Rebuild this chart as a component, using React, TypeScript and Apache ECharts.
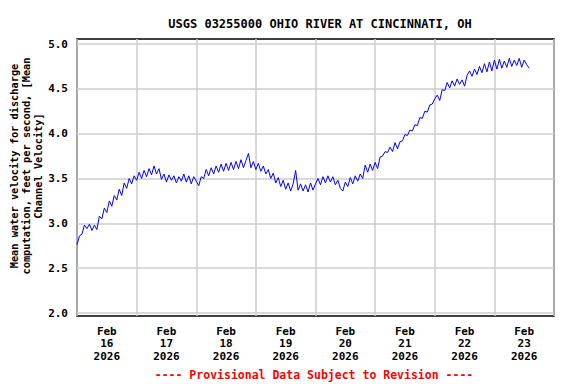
import React, { useEffect, useRef } from "react";
import * as echarts from "echarts";

const TITLE = "USGS 03255000 OHIO RIVER AT CINCINNATI, OH";
const Y_NAME = "Mean water velocity for discharge\ncomputation, feet per second, [Mean\nChannel Velocity]";
const FOOTNOTE = "---- Provisional Data Subject to Revision ----";
const MONTH = "Feb";
const YEAR = "2026";
const DAY_LABELS = ["16", "17", "18", "19", "20", "21", "22", "23"];
const HOURS_PER_STEP = 1; // one reading per hour starting Feb 16 00:00
const VELOCITY = [
  2.76, 2.86, 2.88, 2.98, 2.94, 2.99, 2.92, 2.98, 2.93, 3.08, 3.05, 3.17, 3.12, 3.25, 3.19, 3.31, 3.26, 3.38, 3.31, 3.45, 3.39, 3.50, 3.44, 3.53,
  3.48, 3.57, 3.50, 3.59, 3.52, 3.61, 3.54, 3.64, 3.55, 3.61, 3.49, 3.55,
  3.46, 3.54, 3.48, 3.53, 3.45, 3.52, 3.47, 3.55, 3.46, 3.53, 3.44, 3.52, 3.47,
  3.42, 3.52, 3.50, 3.60, 3.53, 3.62, 3.55, 3.64, 3.57, 3.66, 3.58, 3.67, 3.59, 3.68, 3.60, 3.69, 3.61, 3.71, 3.62, 3.70,
  3.78, 3.62, 3.69, 3.60, 3.67, 3.58, 3.64, 3.55, 3.60, 3.50, 3.56, 3.45, 3.51, 3.41, 3.48, 3.38, 3.45, 3.36, 3.44, 3.59, 3.37,
  3.44, 3.36, 3.43, 3.35, 3.45, 3.37, 3.44,
  3.50, 3.43, 3.52, 3.45, 3.53, 3.46, 3.52, 3.43, 3.48, 3.39, 3.36, 3.46, 3.41, 3.51, 3.44, 3.53, 3.47, 3.55, 3.50,
  3.65, 3.57, 3.66, 3.59, 3.68, 3.61, 3.74, 3.75, 3.80, 3.79, 3.85, 3.80, 3.90, 3.83, 3.91,
  3.92, 3.99, 3.98, 4.04, 4.03, 4.10, 4.09, 4.18, 4.17, 4.25, 4.24, 4.32, 4.33, 4.39, 4.43, 4.37,
  4.49, 4.48, 4.57, 4.51, 4.59, 4.53, 4.61, 4.55, 4.60, 4.53,
  4.65, 4.70, 4.64, 4.72, 4.66, 4.75, 4.68, 4.78, 4.69, 4.80, 4.70, 4.82, 4.72, 4.83, 4.73, 4.81, 4.74, 4.84, 4.75, 4.82, 4.76, 4.84, 4.74, 4.82, 4.77, 4.73,
];

const FONT = "'DejaVu Sans Mono', 'Liberation Mono', monospace";

export default function App() {
  const ref = useRef<HTMLDivElement>(null);
  useEffect(() => {
    if (!ref.current) return;
    const chart = echarts.init(ref.current, null, { renderer: "svg" });
    const data = VELOCITY.map((v, i) => [i * HOURS_PER_STEP, v]);
    const totalHours = DAY_LABELS.length * 24;
    chart.setOption({
      animation: false,
      backgroundColor: "#ffffff",
      title: {
        text: TITLE,
        left: 315,
        top: 13,
        textAlign: "center",
        textStyle: { fontFamily: FONT, fontWeight: "bold", fontSize: 12, color: "#000" },
      },
      grid: [
        { left: 77, right: 22, top: 39, bottom: 68, show: true, borderColor: "#000", borderWidth: 1.5, backgroundColor: "transparent" },
        { left: 77, right: 22, top: 44, bottom: 71 },
      ],
      xAxis: [
        {
          type: "value", gridIndex: 0, min: 0, max: totalHours, interval: 24,
          axisLine: { show: false }, axisTick: { show: false }, axisLabel: { show: false },
          splitLine: { show: true, lineStyle: { color: "#cccccc", width: 1.5 } },
        },
        {
          type: "value", gridIndex: 0, min: 0, max: totalHours, interval: 12, position: "bottom",
          axisLine: { show: false }, axisTick: { show: false }, splitLine: { show: false },
          axisLabel: {
            margin: 9,
            fontFamily: FONT, fontWeight: "bold", fontSize: 11, color: "#000", lineHeight: 12.5,
            formatter: (v: number) => (v % 24 === 12 ? `${MONTH}\n${DAY_LABELS[Math.floor(v / 24)]}\n${YEAR}` : ""),
          },
        },
        { type: "value", gridIndex: 1, min: 0, max: totalHours, show: false },
      ],
      yAxis: [
        { type: "value", gridIndex: 0, min: 2 - 3 / 89.7, max: 5 + 5 / 89.7, show: false },
        {
          type: "value", gridIndex: 1, min: 2, max: 5, interval: 0.5,
          axisLine: { show: false }, axisTick: { show: false },
          axisLabel: { margin: 9, fontFamily: FONT, fontWeight: "bold", fontSize: 11, color: "#000", formatter: (v: number) => v.toFixed(1) },
          splitLine: { show: true, lineStyle: { color: "#cccccc", width: 1.5 } },
        },
      ],
      series: [
        {
          type: "line", xAxisIndex: 0, yAxisIndex: 0, data, showSymbol: false, symbol: "none",
          lineStyle: { color: "#0000ff", width: 1 }, z: 5,
        },
      ],
      graphic: [
        {
          type: "text", x: 26, y: 166, rotation: Math.PI / 2,
          style: { text: Y_NAME, fontFamily: FONT, fontWeight: "bold", fontSize: 10.3, lineHeight: 11.7, fill: "#000", align: "center", verticalAlign: "middle" },
        },
        {
          type: "text", x: 314, y: 375,
          style: { text: FOOTNOTE, fontFamily: FONT, fontWeight: "bold", fontSize: 11.5, fill: "#ff0000", align: "center", verticalAlign: "middle" },
        },
      ],
    });
    return () => chart.dispose();
  }, []);
  return <div ref={ref} style={{ position: "fixed", left: 0, top: 0, width: 576, height: 384 }} />;
}
